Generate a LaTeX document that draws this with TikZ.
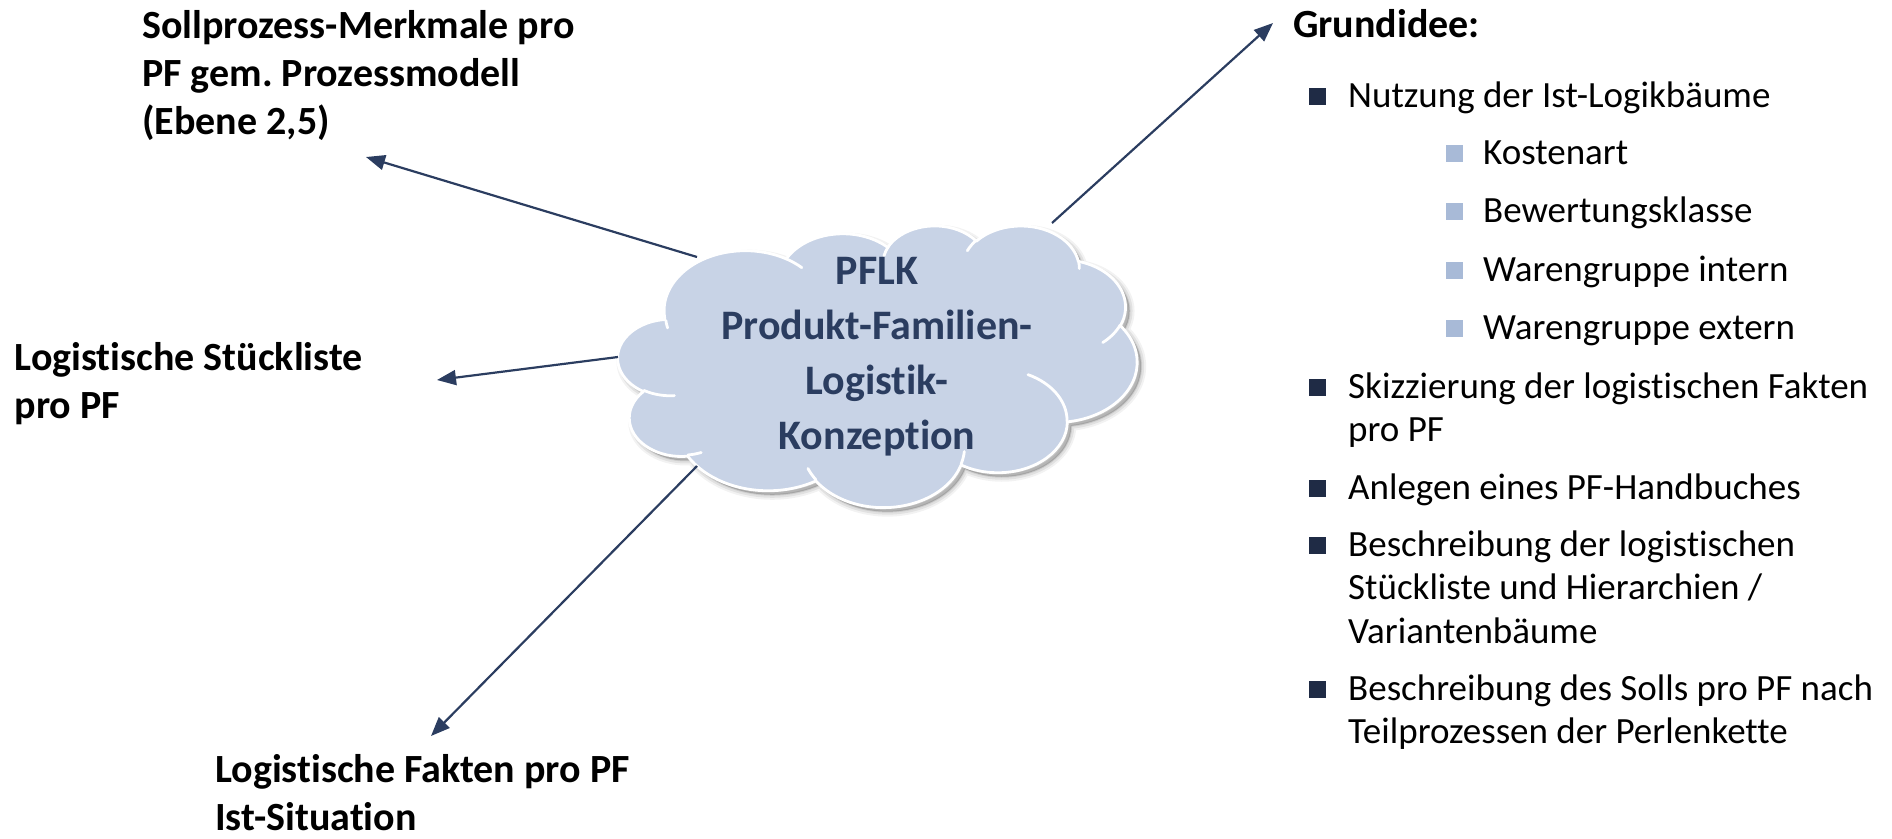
\documentclass[tikz,border=0pt]{standalone}
\usepackage{fontspec}
\setmainfont[Ligatures={NoCommon}]{Carlito}
\frenchspacing
\usetikzlibrary{arrows.meta}
\definecolor{navy}{HTML}{2B3D60}
\definecolor{cloudfill}{HTML}{C8D3E6}
\definecolor{bdark}{HTML}{1F2B45}
\definecolor{blight}{HTML}{A8BAD7}
\tikzset{declare function={vp(\rx,\ry,\ang)=atan2(\rx*sin(\ang),\ry*cos(\ang))+360*round((\ang-atan2(\rx*sin(\ang),\ry*cos(\ang)))/360);}}
\newcommand\ooarc[4]{arc[x radius=#1, y radius=#2, start angle={vp(#1,#2,#3)}, end angle={vp(#1,#2,#3+#4)}]}
\newcommand\cloudoutline{(390,1437)
  \ooarc{675.3}{919.0}{-190.4875}{123.7805}
  \ooarc{533.3}{726.7}{-144.1024}{89.9452}
  \ooarc{436.5}{594.5}{-145.8079}{99.7230}
  \ooarc{485.7}{659.5}{-130.9861}{117.2417}
  \ooarc{533.3}{727.3}{-78.7089}{109.0269}
  \ooarc{677.5}{922.0}{-46.2673}{130.2690}
  \ooarc{578.5}{786.7}{0.6250}{114.0333}
  \ooarc{675.2}{921.5}{22.4516}{115.1726}
  \ooarc{772.0}{1054.3}{66.2426}{75.7110}
  \ooarc{436.0}{591.8}{-274.9421}{146.7356}
  \ooarc{434.5}{594.5}{-246.8285}{152.5189} -- cycle}
\newcommand\cloudinner{
  (469.3,2617.7) \ooarc{434.5}{594.5}{86.7420}{26.4295}
  (692.8,3489.9) \ooarc{436.0}{591.8}{73.6105}{11.4475}
  (1647.8,3909.0) \ooarc{675.2}{921.5}{137.6242}{14.0811}
  (2882.7,3475.1) \ooarc{675.2}{921.5}{6.4533}{15.9984}
  (3412.9,2295.4) \ooarc{578.5}{786.7}{-70.2924}{70.9174}
  (4179.8,1535.4) \ooarc{533.3}{727.3}{30.3180}{27.7515}
  (3832.4,542.6) \ooarc{485.7}{659.5}{-13.7443}{14.8589}
  (2907.8,395.2) \ooarc{485.7}{659.5}{-149.1815}{18.1954}
  (2214.1,472.0) \ooarc{436.5}{594.5}{-163.4943}{17.6864}
  (1400.0,519.2) \ooarc{675.3}{919.0}{-66.7070}{12.3194}
  (412.7,1578.9) \ooarc{675.3}{919.0}{162.0476}{9.7345}}
\begin{document}
\begin{tikzpicture}[x=1pt,y=-1pt,
  head/.style={font=\bfseries\fontsize{40}{48}\selectfont, anchor=base west, inner sep=0pt, align=left},
  body/.style={font=\fontsize{37}{43.5}\selectfont, anchor=base west, inner sep=0pt, align=left},
  cloudtext/.style={font=\bfseries\fontsize{42}{55}\selectfont, text=navy, anchor=base, inner sep=0pt, align=center},
  mb/.style={fill=bdark, minimum size=17pt, inner sep=0pt, outer sep=0pt, anchor=south west},
  sb/.style={fill=blight, minimum size=17pt, inner sep=0pt, outer sep=0pt, anchor=south west},
  arr/.style={draw=navy, line width=2.2pt, -{Triangle[length=19pt,width=15pt]}}]
\useasboundingbox (0,0) rectangle (1892,838);
% cloud shadow
\foreach \lw/\op in {10/0.05,6/0.07,2/0.09}{
  \begin{scope}[shift={(622,229)}, x=0.12014pt, y=-0.06519pt]
    \filldraw[black, opacity=\op, line width=\lw pt, line join=round] \cloudoutline;
  \end{scope}}
% cloud
\begin{scope}[shift={(618,225)}, x=0.12014pt, y=-0.06519pt]
  \filldraw[fill=cloudfill, draw=white, line width=2.8pt, line join=round] \cloudoutline;
  \draw[white, line width=2.8pt, line cap=round] \cloudinner;
\end{scope}
% multi-line nodes: base anchor = baseline of last line
\node[cloudtext] (ctext) at (877,449) {PFLK\\Produkt-Familien-\\Logistik-\\Konzeption};
% left labels
\node[head] (soll) at (142,134) {Sollprozess-Merkmale pro\\PF gem. Prozessmodell\\(Ebene 2,5)};
\node[head] (stk) at (14.5,418) {Logistische Stückliste\\pro PF};
\node[head] (fak) at (215,830) {Logistische Fakten pro PF\\Ist-Situation};
\node[head] (grund) at (1293,37) {Grundidee:};
% bullets
\node[mb] (b1) at (1309,105) {};
\node[body] (i1) at (1348,107) {Nutzung der Ist-Logikbäume};
\node[sb] (sb1) at (1446,162) {};
\node[body] (s1) at (1483,164) {Kostenart};
\node[sb] (sb2) at (1446,220) {};
\node[body] (s2) at (1483,222) {Bewertungsklasse};
\node[sb] (sb3) at (1446,279) {};
\node[body] (s3) at (1483,281) {Warengruppe intern};
\node[sb] (sb4) at (1446,337) {};
\node[body] (s4) at (1483,339) {Warengruppe extern};
\node[mb] (b2) at (1309,396) {};
\node[body] (i2) at (1348,441.5) {Skizzierung der logistischen Fakten\\pro PF};
\node[mb] (b3) at (1309,497) {};
\node[body] (i3) at (1348,499) {Anlegen eines PF-Handbuches};
\node[mb] (b4) at (1309,554) {};
\node[body] (i4) at (1348,643) {Beschreibung der logistischen\\Stückliste und Hierarchien /\\Variantenbäume};
\node[mb] (b5) at (1309,698) {};
\node[body] (i5) at (1348,743.5) {Beschreibung des Solls pro PF nach\\Teilprozessen der Perlenkette};
% connectors
\coordinate (t1) at (697,257); \coordinate (h1) at (366,157);
\coordinate (t2) at (618,357); \coordinate (h2) at (437,380);
\coordinate (t3) at (697,466); \coordinate (h3) at (431,736);
\coordinate (t4) at (1052,223); \coordinate (h4) at (1273,23);
\draw[arr] (t1) -- (h1);
\draw[arr] (t2) -- (h2);
\draw[arr] (t3) -- (h3);
\draw[arr] (t4) -- (h4);
\end{tikzpicture}
\end{document}
